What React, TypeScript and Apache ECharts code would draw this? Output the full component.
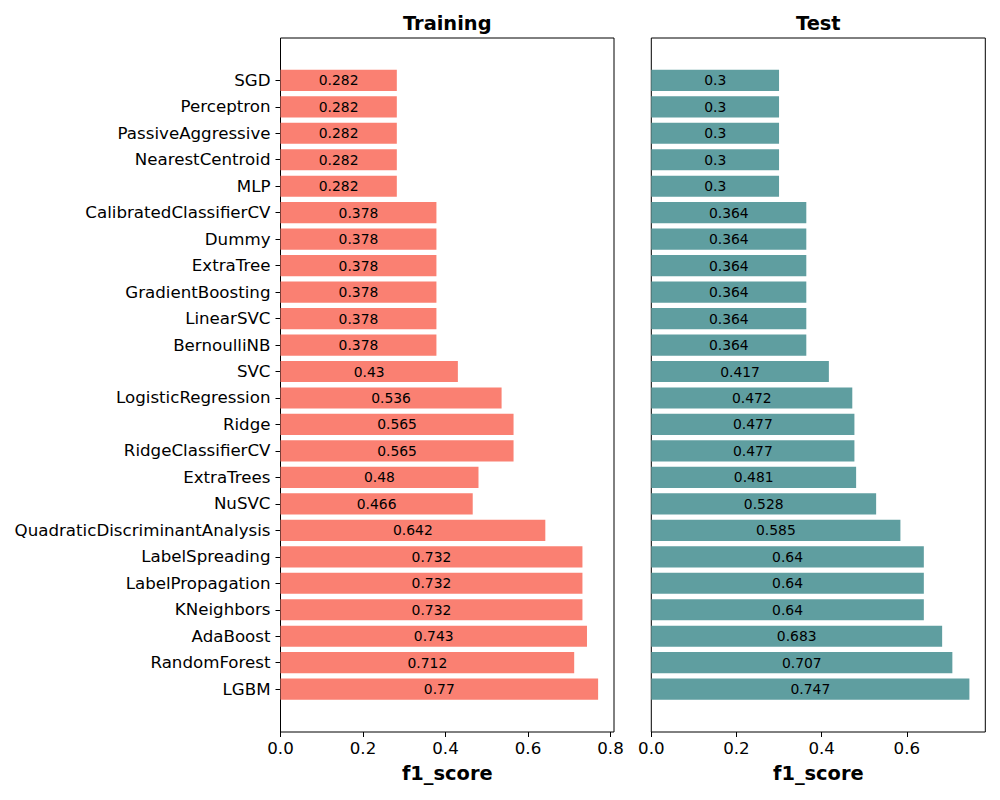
import React, { useEffect, useRef } from "react";
import * as echarts from "echarts";

// Models, listed from top to bottom of the chart
const models = [
  "SGD",
  "Perceptron",
  "PassiveAggressive",
  "NearestCentroid",
  "MLP",
  "CalibratedClassifierCV",
  "Dummy",
  "ExtraTree",
  "GradientBoosting",
  "LinearSVC",
  "BernoulliNB",
  "SVC",
  "LogisticRegression",
  "Ridge",
  "RidgeClassifierCV",
  "ExtraTrees",
  "NuSVC",
  "QuadraticDiscriminantAnalysis",
  "LabelSpreading",
  "LabelPropagation",
  "KNeighbors",
  "AdaBoost",
  "RandomForest",
  "LGBM",
];

const trainingF1 = [
  0.282, 0.282, 0.282, 0.282, 0.282, 0.378, 0.378, 0.378, 0.378, 0.378, 0.378,
  0.43, 0.536, 0.565, 0.565, 0.48, 0.466, 0.642, 0.732, 0.732, 0.732, 0.743,
  0.712, 0.77,
];

const testF1 = [
  0.3, 0.3, 0.3, 0.3, 0.3, 0.364, 0.364, 0.364, 0.364, 0.364, 0.364, 0.417,
  0.472, 0.477, 0.477, 0.481, 0.528, 0.585, 0.64, 0.64, 0.64, 0.683, 0.707,
  0.747,
];

const xTicks = {
  training: [0, 0.2, 0.4, 0.6, 0.8],
  test: [0, 0.2, 0.4, 0.6],
};

const panelTitles = ["Training", "Test"];
const xAxisTitle = "f1_score";

const FONT = "DejaVu Sans";
const SALMON = "#FA8072";
const CADET = "#5F9EA0";

export default function App() {
  const ref = useRef<HTMLDivElement>(null);

  useEffect(() => {
    if (!ref.current) return;
    const chart = echarts.init(ref.current, undefined, { renderer: "svg" });

    // 5% padding beyond the largest bar, like matplotlib's default margins
    const trainMax = Math.max(...trainingF1) * 1.05;
    const testMax = Math.max(...testF1) * 1.05;

    const frameTop = 38;
    const frameHeight = 694;
    const innerTop = 67.1;
    const innerHeight = 635.3;
    const panels = [
      { left: 280.5, width: 333.5 },
      { left: 651.3, width: 334 },
    ];

    const outerX = (gridIndex: number, max: number, ticks: number[]) => ({
      type: "value",
      gridIndex,
      min: 0,
      max,
      splitLine: { show: false },
      axisLine: { show: false },
      axisTick: {
        show: true,
        length: 5,
        customValues: ticks,
        lineStyle: { color: "#000", width: 1 },
      },
      axisLabel: {
        customValues: ticks,
        formatter: (v: number) => v.toFixed(1),
        color: "#000",
        fontFamily: FONT,
        fontSize: 16.67,
        margin: 8,
      },
      name: xAxisTitle,
      nameLocation: "middle",
      nameGap: 32,
      nameTextStyle: {
        color: "#000",
        fontFamily: FONT,
        fontSize: 19.4,
        fontWeight: "bold",
      },
    });

    const innerX = (gridIndex: number, max: number) => ({
      type: "value",
      gridIndex,
      min: 0,
      max,
      show: false,
    });

    const barLabel = {
      show: true,
      position: "inside",
      color: "#000",
      fontFamily: FONT,
      fontSize: 13.9,
    };

    chart.setOption({
      animation: false,
      backgroundColor: "#fff",
      grid: [
        {
          left: panels[0].left,
          top: frameTop,
          width: panels[0].width,
          height: frameHeight,
          show: true,
          borderColor: "#000",
          borderWidth: 1,
          backgroundColor: "transparent",
          containLabel: false,
        },
        {
          left: panels[0].left,
          top: innerTop,
          width: panels[0].width,
          height: innerHeight,
          containLabel: false,
        },
        {
          left: panels[1].left,
          top: frameTop,
          width: panels[1].width,
          height: frameHeight,
          show: true,
          borderColor: "#000",
          borderWidth: 1,
          backgroundColor: "transparent",
          containLabel: false,
        },
        {
          left: panels[1].left,
          top: innerTop,
          width: panels[1].width,
          height: innerHeight,
          containLabel: false,
        },
      ],
      xAxis: [
        outerX(0, trainMax, xTicks.training),
        innerX(1, trainMax),
        outerX(2, testMax, xTicks.test),
        innerX(3, testMax),
      ],
      yAxis: [
        { type: "value", gridIndex: 0, min: 0, max: 1, show: false },
        {
          type: "category",
          gridIndex: 1,
          inverse: true,
          data: models,
          axisLine: { show: false },
          axisTick: {
            show: true,
            alignWithLabel: true,
            length: 5,
            lineStyle: { color: "#000", width: 1 },
          },
          axisLabel: {
            color: "#000",
            fontFamily: FONT,
            fontSize: 16.67,
            margin: 10,
            interval: 0,
          },
        },
        { type: "value", gridIndex: 2, min: 0, max: 1, show: false },
        {
          type: "category",
          gridIndex: 3,
          inverse: true,
          data: models,
          show: false,
        },
      ],
      graphic: panelTitles.map((t, i) => ({
        type: "text",
        x: panels[i].left + panels[i].width / 2,
        y: 23,
        style: {
          text: t,
          fill: "#000",
          font: `bold 19.4px "${FONT}"`,
          align: "center",
          verticalAlign: "middle",
          textAlign: "center",
          textVerticalAlign: "middle",
        },
      })),
      series: [
        {
          type: "bar",
          name: panelTitles[0],
          xAxisIndex: 1,
          yAxisIndex: 1,
          data: trainingF1,
          barWidth: "80%",
          itemStyle: { color: SALMON },
          label: barLabel,
        },
        {
          type: "bar",
          name: panelTitles[1],
          xAxisIndex: 3,
          yAxisIndex: 3,
          data: testF1,
          barWidth: "80%",
          itemStyle: { color: CADET },
          label: barLabel,
        },
      ],
    });

    return () => chart.dispose();
  }, []);

  return (
    <div
      ref={ref}
      style={{ position: "fixed", left: 0, top: 0, width: 1000, height: 800 }}
    />
  );
}
